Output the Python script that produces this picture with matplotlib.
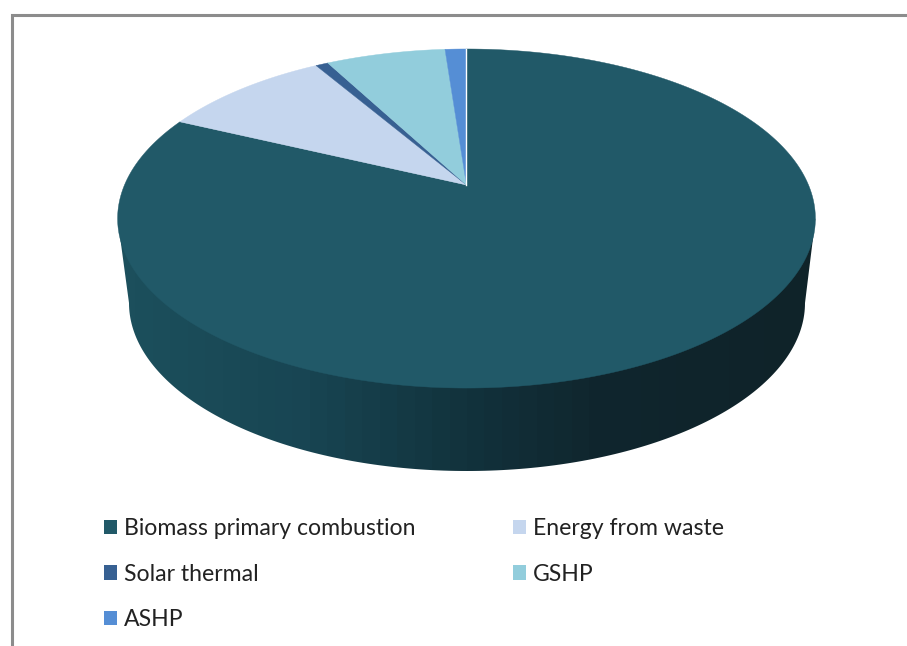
import numpy as np
import matplotlib
matplotlib.use("Agg")
import matplotlib.pyplot as plt
from matplotlib.patches import Polygon, Patch

labels = ["Biomass primary combustion", "Energy from waste", "Solar thermal", "GSHP", "ASHP"]
values = [81.9, 9.5, 0.7, 6.7, 1.2]
colors = ["#215968", "#c5d6ee", "#376092", "#92cddc", "#558ed5"]

# shading of the pie's side wall, left to right
wall_stops = [0.0, 0.26, 0.5, 0.69, 1.0]
wall_colors = ["#1c4f5c", "#184553", "#12323c", "#10262e", "#0f2329"]

# pie geometry in pixels (tilted disc seen in perspective)
apex_x, apex_y = 466.5, 185
scale_x, scale_y, persp = 342, 162.9, 0.1977
wall_cx, wall_cy, wall_rx, wall_ry = 467, 303, 338, 168


def rim(theta):
    # theta in degrees, clockwise from the top of the disc
    t = np.radians(theta)
    u, v = np.sin(t), np.cos(t)
    d = 1 + persp * v
    return apex_x + scale_x * u / d, apex_y - scale_y * v / d


fig = plt.figure(figsize=(9.07, 6.46), dpi=100)
ax = fig.add_axes([0, 0, 1, 1])
ax.set_xlim(0, 907)
ax.set_ylim(646, 0)
ax.axis("off")

# frame of the original chart
ax.plot([11.5, 11.5, 907], [646, 15.3, 15.3], color="#8c8c8c", lw=2.2, solid_joinstyle="miter")

# side wall
xs, ys = rim(np.linspace(0, 360, 721))
left, right = np.argmin(xs), np.argmax(xs)
a = np.radians(np.linspace(180, 0, 181))
wall_x = wall_cx + wall_rx * np.cos(a)
wall_y = wall_cy + wall_ry * np.sin(a)
outline = np.column_stack([
    np.r_[xs[left], wall_x, xs[right], xs[left]],
    np.r_[ys[left], wall_y, ys[right], ys[left]],
])
clip = Polygon(outline, closed=True, transform=ax.transData, facecolor="none", edgecolor="none")
ax.add_patch(clip)

n_bands = 40
pos = np.linspace(0, 1, n_bands)
rgb = np.array([matplotlib.colors.to_rgb(c) for c in wall_colors])
band = np.stack([np.interp(pos, wall_stops, rgb[:, i]) for i in range(3)], axis=-1)
im = ax.imshow(band[np.newaxis, :, :], extent=[xs[left], xs[right], 480, 210],
               aspect="auto", interpolation="nearest", zorder=2)
im.set_clip_path(clip)
ax.set_xlim(0, 907)
ax.set_ylim(646, 0)

# top face
start = 0.0
total = sum(values)
for value, color in zip(values, colors):
    sweep = value / total * 360
    theta = np.linspace(start, start + sweep, max(int(sweep * 2), 2))
    rx, ry = rim(theta)
    ax.fill(np.r_[apex_x, rx], np.r_[apex_y, ry], color=color, lw=0.3, zorder=3)
    start += sweep
ax.plot([apex_x - 0.5, apex_x - 0.5], [rim(0)[1], apex_y], color="white", lw=1.0, zorder=4)

# legend, column by column
order = [0, 2, 4, 1, 3]
handles = [Patch(facecolor=colors[i], edgecolor="none", label=labels[i]) for i in order]
ax.legend(handles=handles, ncol=2, frameon=False, loc="upper left",
          bbox_to_anchor=(104 / 907, 1 - 518 / 646), borderaxespad=0, borderpad=0,
          prop={"family": "Lato", "size": 16.6}, labelcolor="#222222",
          handlelength=0.58, handleheight=0.58, handletextpad=0.3,
          labelspacing=1.07, columnspacing=4.2)

fig.savefig("out.png", dpi=100)
